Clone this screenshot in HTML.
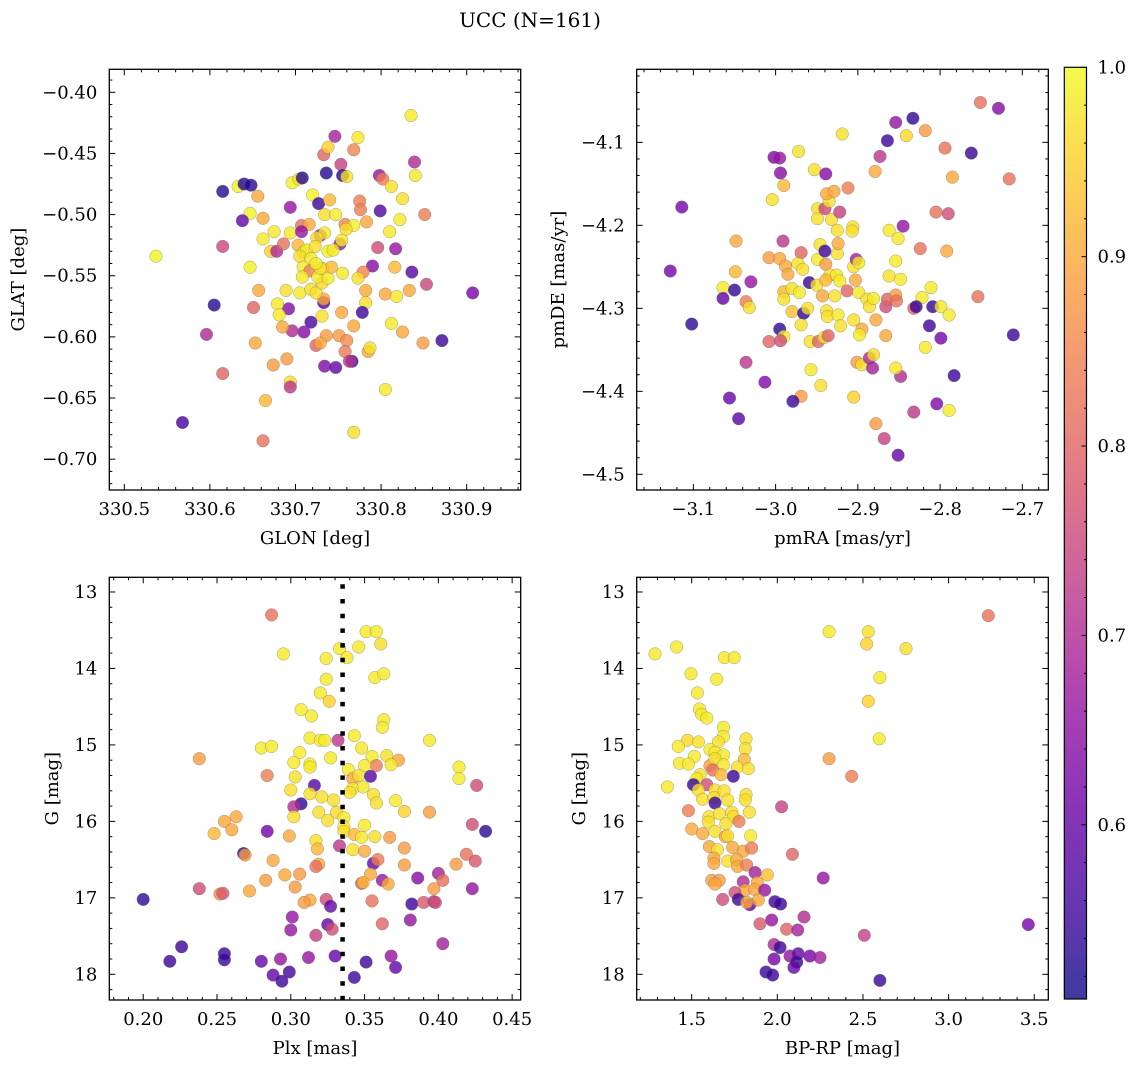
<!DOCTYPE html>
<html><head><meta charset="utf-8"><title>UCC (N=161)</title>
<style>
html,body{margin:0;padding:0;background:#fff;}
svg{display:block;font-family:"DejaVu Serif","Liberation Serif",serif;}
</style></head>
<body>
<svg id="fig" width="1136" height="1067" viewBox="0 0 1136 1067" xmlns="http://www.w3.org/2000/svg">
<rect x="0" y="0" width="1136" height="1067" fill="#fff"/>
<text x="530" y="27" text-anchor="middle" font-size="20">UCC (N=161)</text>
</svg>
<script>
// ---------- DATA ----------
const glon = [330.537,330.568,330.615,330.633,330.640,330.648,330.615,330.647,330.638,330.656,330.662,330.596,330.615,330.647,330.605,330.651,330.653,330.657,330.662,330.665,330.674,330.690,330.694,330.694,330.694,330.696,330.704,330.708,330.720,330.727,330.740,330.736,330.746,330.733,330.738,330.753,330.755,330.760,330.768,330.773,330.734,330.747,330.758,330.768,330.759,330.775,330.776,330.783,330.798,330.802,330.812,330.825,330.799,330.839,330.840,330.835,330.851,330.822,330.810,330.796,330.817,330.790,330.816,330.836,330.853,330.907,330.779,330.773,330.782,330.782,330.805,330.818,330.833,330.778,330.754,330.768,330.812,330.825,330.849,330.871,330.731,330.733,330.733,330.718,330.710,330.696,330.685,330.692,330.679,330.681,330.689,330.705,330.718,330.724,330.731,330.736,330.751,330.760,330.724,330.729,330.758,330.766,330.763,330.785,330.787,330.734,330.747,330.805,330.768,330.662,330.671,330.678,330.675,330.686,330.694,330.707,330.716,330.707,330.703,330.709,330.713,330.705,330.718,330.729,330.734,330.738,330.752,330.754,330.709,330.717,330.708,330.726,330.732,330.738,330.742,330.755,330.725,330.723,330.744,330.729,330.724];
const glat = [-0.534,-0.670,-0.481,-0.477,-0.475,-0.476,-0.526,-0.499,-0.505,-0.485,-0.503,-0.598,-0.630,-0.543,-0.574,-0.576,-0.605,-0.562,-0.685,-0.652,-0.623,-0.618,-0.494,-0.637,-0.641,-0.474,-0.471,-0.470,-0.484,-0.491,-0.488,-0.466,-0.436,-0.451,-0.445,-0.459,-0.468,-0.469,-0.447,-0.437,-0.500,-0.500,-0.508,-0.509,-0.512,-0.489,-0.496,-0.506,-0.468,-0.471,-0.477,-0.487,-0.497,-0.457,-0.468,-0.419,-0.500,-0.504,-0.514,-0.527,-0.528,-0.542,-0.543,-0.547,-0.557,-0.564,-0.547,-0.552,-0.562,-0.572,-0.565,-0.567,-0.562,-0.580,-0.580,-0.591,-0.589,-0.596,-0.605,-0.603,-0.583,-0.572,-0.569,-0.588,-0.596,-0.595,-0.592,-0.577,-0.573,-0.582,-0.562,-0.564,-0.561,-0.564,-0.556,-0.599,-0.599,-0.603,-0.607,-0.605,-0.612,-0.620,-0.620,-0.612,-0.609,-0.624,-0.625,-0.643,-0.678,-0.520,-0.530,-0.530,-0.514,-0.524,-0.515,-0.509,-0.508,-0.514,-0.525,-0.531,-0.529,-0.534,-0.536,-0.517,-0.515,-0.530,-0.524,-0.521,-0.543,-0.546,-0.551,-0.551,-0.544,-0.552,-0.543,-0.548,-0.519,-0.526,-0.529,-0.544,-0.540];
const prob1 = [0.99,0.56,0.53,0.99,0.53,0.53,0.75,0.99,0.6,0.9,0.9,0.7,0.8,0.99,0.53,0.8,0.9,0.9,0.82,0.92,0.88,0.88,0.66,0.97,0.72,0.99,0.97,0.53,0.99,0.55,0.92,0.53,0.68,0.8,0.95,0.74,0.53,0.97,0.85,0.98,0.97,0.98,0.85,0.99,0.97,0.84,0.84,0.9,0.66,0.84,0.97,0.97,0.57,0.7,0.98,0.98,0.84,0.98,0.98,0.76,0.66,0.64,0.92,0.58,0.75,0.62,0.85,0.97,0.9,0.97,0.9,0.98,0.9,0.55,0.9,0.9,0.98,0.9,0.88,0.55,0.97,0.58,0.9,0.56,0.64,0.7,0.9,0.64,0.98,0.98,0.97,0.98,0.97,0.97,0.96,0.88,0.88,0.86,0.8,0.9,0.84,0.55,0.72,0.9,0.97,0.63,0.6,0.98,0.97,0.98,0.95,0.7,0.98,0.82,0.98,0.82,0.9,0.66,0.92,0.97,0.98,0.97,0.98,0.66,0.98,0.99,0.66,0.98,0.98,0.84,0.98,0.98,0.98,0.98,0.92,0.98,0.97,0.97,0.98,0.97,0.98];

const pmra = [-3.114,-3.128,-3.102,-3.064,-3.064,-3.050,-3.048,-3.049,-3.036,-3.032,-3.030,-3.036,-3.056,-3.045,-3.013,-3.002,-2.995,-2.994,-3.004,-2.990,-2.972,-2.953,-2.939,-2.991,-3.008,-2.995,-2.969,-2.988,-2.985,-2.973,-2.967,-2.990,-2.980,-2.971,-2.990,-2.980,-2.966,-2.961,-2.969,-2.995,-2.990,-3.008,-2.994,-2.959,-2.950,-2.943,-2.949,-2.946,-2.940,-2.939,-2.925,-2.924,-2.934,-2.926,-2.922,-2.939,-2.928,-2.938,-2.937,-2.924,-2.921,-2.913,-2.899,-2.903,-2.905,-2.902,-2.899,-2.905,-2.895,-2.898,-2.878,-2.889,-2.886,-2.881,-2.866,-2.864,-2.854,-2.853,-2.866,-2.862,-2.848,-2.854,-2.862,-2.851,-2.845,-2.824,-2.792,-2.822,-2.811,-2.832,-2.829,-2.809,-2.799,-2.789,-2.813,-2.799,-2.818,-2.754,-2.711,-2.783,-2.804,-2.789,-2.832,-2.848,-2.854,-2.878,-2.868,-2.851,-2.905,-2.945,-2.957,-2.969,-2.979,-2.958,-2.948,-2.941,-2.936,-2.901,-2.895,-2.886,-2.881,-2.882,-2.949,-2.940,-2.949,-2.932,-2.925,-2.922,-2.935,-2.938,-2.929,-2.912,-2.906,-2.907,-2.919,-2.879,-2.873,-2.864,-2.854,-2.841,-2.833,-2.818,-2.794,-2.785,-2.762,-2.751,-2.729,-2.716,-2.805,-2.790];
const pmde = [-4.178,-4.255,-4.319,-4.275,-4.288,-4.278,-4.219,-4.256,-4.292,-4.299,-4.268,-4.365,-4.408,-4.433,-4.389,-4.118,-4.119,-4.137,-4.169,-4.152,-4.111,-4.133,-4.138,-4.219,-4.239,-4.240,-4.233,-4.249,-4.259,-4.246,-4.253,-4.280,-4.276,-4.281,-4.289,-4.304,-4.306,-4.300,-4.320,-4.325,-4.334,-4.340,-4.339,-4.269,-4.272,-4.285,-4.241,-4.223,-4.231,-4.247,-4.234,-4.222,-4.260,-4.260,-4.267,-4.266,-4.285,-4.303,-4.310,-4.308,-4.321,-4.279,-4.281,-4.266,-4.250,-4.241,-4.245,-4.314,-4.325,-4.332,-4.314,-4.289,-4.298,-4.288,-4.298,-4.289,-4.284,-4.291,-4.333,-4.261,-4.265,-4.243,-4.206,-4.216,-4.201,-4.228,-4.231,-4.287,-4.275,-4.300,-4.298,-4.298,-4.298,-4.308,-4.321,-4.336,-4.347,-4.286,-4.332,-4.381,-4.415,-4.423,-4.425,-4.382,-4.372,-4.439,-4.457,-4.477,-4.407,-4.393,-4.374,-4.406,-4.412,-4.340,-4.340,-4.335,-4.333,-4.365,-4.368,-4.360,-4.356,-4.372,-4.180,-4.180,-4.192,-4.193,-4.206,-4.184,-4.171,-4.162,-4.159,-4.155,-4.202,-4.207,-4.090,-4.135,-4.117,-4.098,-4.076,-4.092,-4.071,-4.086,-4.107,-4.142,-4.113,-4.052,-4.059,-4.144,-4.184,-4.186];
const prob2 = [0.62,0.62,0.54,0.98,0.6,0.54,0.9,0.92,0.84,0.97,0.66,0.72,0.6,0.58,0.63,0.63,0.66,0.64,0.97,0.92,0.97,0.97,0.64,0.72,0.88,0.9,0.8,0.9,0.9,0.97,0.97,0.92,0.97,0.98,0.97,0.93,0.54,0.97,0.97,0.54,0.98,0.8,0.76,0.55,0.97,0.9,0.98,0.97,0.55,0.88,0.97,0.9,0.97,0.98,0.98,0.92,0.97,0.97,0.97,0.98,0.97,0.8,0.98,0.9,0.97,0.68,0.98,0.97,0.9,0.98,0.9,0.97,0.97,0.98,0.76,0.8,0.88,0.82,0.9,0.97,0.98,0.98,0.98,0.98,0.66,0.82,0.9,0.98,0.98,0.8,0.55,0.54,0.98,0.98,0.55,0.62,0.98,0.82,0.55,0.55,0.63,0.98,0.72,0.7,0.98,0.88,0.74,0.6,0.95,0.97,0.98,0.88,0.55,0.97,0.8,0.97,0.8,0.88,0.97,0.7,0.97,0.68,0.97,0.75,0.97,0.97,0.97,0.74,0.97,0.9,0.9,0.84,0.97,0.97,0.97,0.9,0.72,0.55,0.66,0.96,0.54,0.88,0.82,0.9,0.55,0.82,0.64,0.82,0.82,0.76];

const plx = [0.287,0.295,0.333,0.338,0.324,0.346,0.351,0.358,0.361,0.324,0.357,0.363,0.320,0.326,0.307,0.314,0.363,0.362,0.343,0.313,0.320,0.323,0.332,0.394,0.280,0.287,0.348,0.306,0.238,0.355,0.365,0.373,0.368,0.302,0.313,0.313,0.327,0.358,0.414,0.414,0.339,0.350,0.284,0.303,0.342,0.346,0.354,0.426,0.316,0.300,0.342,0.349,0.313,0.321,0.329,0.340,0.356,0.358,0.307,0.302,0.371,0.319,0.331,0.377,0.394,0.302,0.325,0.336,0.263,0.255,0.423,0.432,0.336,0.350,0.248,0.260,0.284,0.299,0.336,0.343,0.348,0.357,0.367,0.317,0.318,0.333,0.342,0.350,0.377,0.268,0.269,0.419,0.425,0.288,0.356,0.359,0.377,0.412,0.319,0.317,0.296,0.306,0.354,0.386,0.400,0.403,0.283,0.362,0.348,0.349,0.366,0.238,0.303,0.397,0.423,0.252,0.254,0.272,0.200,0.313,0.309,0.324,0.327,0.355,0.382,0.390,0.397,0.398,0.301,0.381,0.300,0.325,0.328,0.362,0.317,0.403,0.226,0.218,0.255,0.255,0.280,0.293,0.312,0.330,0.351,0.368,0.371,0.288,0.294,0.299,0.343];
const gmag3 = [13.30,13.81,13.74,13.86,13.87,13.72,13.52,13.52,13.68,14.14,14.12,14.07,14.32,14.43,14.54,14.62,14.67,14.77,14.88,14.91,14.94,14.94,14.94,14.94,15.04,15.02,15.04,15.10,15.18,15.15,15.14,15.20,15.26,15.23,15.25,15.29,15.17,15.27,15.29,15.44,15.32,15.27,15.40,15.42,15.44,15.40,15.41,15.53,15.53,15.59,15.57,15.55,15.64,15.68,15.72,15.62,15.65,15.76,15.77,15.81,15.73,15.88,15.88,15.87,15.88,15.94,15.99,15.95,15.94,16.00,16.04,16.13,16.07,16.05,16.16,16.11,16.13,16.19,16.13,16.17,16.21,16.20,16.21,16.25,16.36,16.32,16.37,16.39,16.35,16.42,16.44,16.43,16.52,16.51,16.55,16.50,16.57,16.56,16.56,16.59,16.70,16.69,16.69,16.74,16.68,16.77,16.77,16.77,16.81,16.80,16.82,16.88,16.86,16.88,16.88,16.95,16.94,16.91,17.02,17.03,17.06,17.02,17.11,17.04,17.08,17.06,17.05,17.06,17.25,17.29,17.42,17.35,17.41,17.34,17.49,17.60,17.64,17.83,17.73,17.81,17.83,17.80,17.78,17.76,17.84,17.76,17.91,18.01,18.09,17.97,18.04];
const prob3 = [0.82,0.98,0.98,0.98,0.98,0.98,0.98,0.98,0.97,0.98,0.98,0.98,0.98,0.95,0.98,0.98,0.98,0.98,0.98,0.98,0.98,0.98,0.72,0.98,0.98,0.98,0.98,0.98,0.88,0.98,0.97,0.9,0.98,0.98,0.98,0.98,0.98,0.84,0.98,0.98,0.98,0.98,0.84,0.97,0.9,0.97,0.58,0.76,0.58,0.97,0.98,0.98,0.97,0.97,0.97,0.97,0.97,0.97,0.54,0.7,0.98,0.97,0.96,0.95,0.88,0.97,0.97,0.98,0.9,0.9,0.76,0.54,0.98,0.98,0.92,0.9,0.62,0.9,0.97,0.92,0.98,0.97,0.88,0.97,0.92,0.72,0.97,0.9,0.88,0.54,0.88,0.82,0.78,0.9,0.6,0.84,0.88,0.88,0.9,0.82,0.9,0.88,0.9,0.64,0.68,0.82,0.88,0.66,0.78,0.92,0.9,0.76,0.88,0.88,0.66,0.86,0.78,0.9,0.54,0.9,0.88,0.76,0.6,0.82,0.55,0.78,0.72,0.76,0.66,0.66,0.66,0.6,0.76,0.8,0.74,0.68,0.55,0.55,0.55,0.55,0.6,0.66,0.66,0.6,0.55,0.66,0.6,0.6,0.55,0.56,0.55];

const bprp = [1.286,1.412,1.691,1.749,2.302,2.531,2.521,2.751,3.232,1.496,1.646,2.599,1.533,2.531,1.545,1.558,1.588,1.685,1.685,1.475,1.539,1.817,1.656,1.422,1.607,1.813,2.595,1.636,1.685,1.516,2.302,1.428,1.480,1.607,1.636,1.685,1.807,1.767,1.831,1.623,1.743,2.434,1.549,1.529,1.671,1.510,1.588,1.358,1.539,1.636,1.689,1.817,1.564,1.630,1.710,1.813,1.636,2.025,1.481,1.734,1.837,1.601,1.662,1.743,1.776,1.597,1.700,1.500,1.564,1.636,1.696,1.710,1.844,1.603,1.650,1.739,1.801,1.850,2.088,1.630,1.710,1.763,1.768,1.821,1.630,1.870,1.942,2.268,1.617,1.661,1.636,1.801,1.883,1.811,1.868,1.926,1.753,1.772,1.840,1.821,1.889,1.681,1.986,2.019,1.967,1.899,2.156,2.054,2.119,2.508,3.465,1.981,2.016,2.074,2.122,2.190,2.249,1.981,2.113,2.097,1.934,1.973,2.599];
const gmag4 = [13.81,13.72,13.86,13.86,13.52,13.52,13.68,13.74,13.31,14.07,14.14,14.12,14.32,14.43,14.53,14.60,14.65,14.77,14.89,14.94,14.96,14.92,14.96,15.02,15.06,15.05,14.92,15.10,15.13,15.15,15.18,15.24,15.25,15.27,15.18,15.26,15.19,15.29,15.31,15.33,15.41,15.41,15.39,15.44,15.39,15.52,15.52,15.55,15.59,15.59,15.60,15.65,15.71,15.69,15.72,15.72,15.76,15.81,15.86,15.88,15.88,15.94,15.90,15.94,16.00,16.01,16.03,16.10,16.16,16.13,16.20,16.19,16.19,16.33,16.37,16.34,16.39,16.35,16.43,16.48,16.52,16.50,16.59,16.57,16.55,16.67,16.70,16.74,16.77,16.77,16.82,16.79,16.80,16.90,16.89,16.90,16.93,17.02,17.09,17.06,17.03,17.02,17.05,17.08,17.29,17.34,17.25,17.41,17.42,17.49,17.35,17.61,17.65,17.76,17.73,17.76,17.78,17.80,17.84,17.91,17.97,18.01,18.08];
const prob4 = [0.98,0.98,0.98,0.98,0.98,0.97,0.95,0.97,0.82,0.98,0.98,0.98,0.98,0.95,0.98,0.98,0.98,0.98,0.98,0.96,0.97,0.97,0.97,0.98,0.98,0.97,0.98,0.98,0.98,0.98,0.88,0.98,0.98,0.88,0.97,0.98,0.92,0.97,0.97,0.82,0.55,0.84,0.97,0.98,0.92,0.55,0.76,0.98,0.97,0.97,0.97,0.97,0.97,0.97,0.97,0.97,0.55,0.74,0.84,0.97,0.97,0.97,0.97,0.97,0.84,0.97,0.97,0.9,0.9,0.97,0.9,0.97,0.98,0.9,0.97,0.9,0.9,0.84,0.8,0.9,0.97,0.9,0.9,0.84,0.9,0.68,0.93,0.66,0.88,0.88,0.9,0.7,0.9,0.9,0.9,0.66,0.76,0.55,0.6,0.9,0.9,0.76,0.55,0.55,0.66,0.78,0.7,0.8,0.68,0.74,0.62,0.7,0.55,0.66,0.6,0.62,0.68,0.62,0.55,0.6,0.55,0.55,0.55];

const cbTicks = [0.6,0.7,0.8,0.9,1.0];
const VMIN = 0.508, VMAX = 1.0;

// ---------- RENDERING ----------
const NS = "http://www.w3.org/2000/svg";
const svg = document.getElementById('fig');
function mk(tag, attrs, parent){
  const e = document.createElementNS(NS, tag);
  for (const k in attrs) e.setAttribute(k, attrs[k]);
  (parent||svg).appendChild(e);
  return e;
}
const plasmaStops = ["#0d0887","#46039f","#7201a8","#9c179e","#bd3786","#d8576b","#ed7953","#fb9f3a","#fdca26","#f0f921"];
function hex2rgb(h){return [parseInt(h.substr(1,2),16),parseInt(h.substr(3,2),16),parseInt(h.substr(5,2),16)];}
function plasma(t){
  t=Math.max(0,Math.min(1,t));
  const n=plasmaStops.length-1, f=t*n, i=Math.min(n-1,Math.floor(f)), r=f-i;
  const a=hex2rgb(plasmaStops[i]), b=hex2rgb(plasmaStops[i+1]);
  return "rgb("+a.map((v,k)=>Math.round(v+(b[k]-v)*r)).join(",")+")";
}
function fmt(v,d){ const s=v.toFixed(d); return s.replace("-","\u2212"); }

function panel(cfg){
  const g = mk('g',{});
  
  
  const {L,R,T,B} = cfg;
  const sx = v => L + (v-cfg.x0)/(cfg.x1-cfg.x0)*(R-L);
  const sy = v => cfg.yinv ? T + (v-cfg.y0)/(cfg.y1-cfg.y0)*(B-T) : B - (v-cfg.y0)/(cfg.y1-cfg.y0)*(B-T);
  const clip = mk('clipPath',{id:'clip-'+cfg.name}, g);
  mk('rect',{x:L,y:T,width:R-L,height:B-T},clip);
  const pts = mk('g',{'clip-path':'url(#clip-'+cfg.name+')'}, g);
  
  
  for (let i=0;i<cfg.xs.length;i++){
    const c = mk('circle',{cx:sx(cfg.xs[i]).toFixed(1),cy:sy(cfg.ys[i]).toFixed(1),r:6.3,
      fill:plasma((cfg.cs[i]-VMIN)/(VMAX-VMIN)),'fill-opacity':0.8,stroke:'#666','stroke-width':0.5,'stroke-opacity':0.6}, pts);
    
    
  }
  if (cfg.vline!==undefined){
    const vl = mk('line',{x1:sx(cfg.vline),x2:sx(cfg.vline),y1:T+7,y2:B,stroke:'#000','stroke-width':4.5,'stroke-dasharray':'4.5 10.2'}, g);
    
    
  }
  // frame
  const fr = mk('rect',{x:L,y:T,width:R-L,height:B-T,fill:'none',stroke:'#000','stroke-width':1.3}, g);
  
  
  // ticks
  const tk = mk('g',{stroke:'#000','stroke-width':1}, g);
  const eps=1e-9;
  const lo=Math.min(cfg.x0,cfg.x1), hi=Math.max(cfg.x0,cfg.x1);
  for (let v=Math.ceil(lo/cfg.xmin-eps)*cfg.xmin; v<=hi+eps; v+=cfg.xmin){
    const x=sx(v); const major = Math.abs(v/cfg.xmaj-Math.round(v/cfg.xmaj))<1e-6; const len=major?6:3;
    mk('line',{x1:x,x2:x,y1:B,y2:B-len},tk); mk('line',{x1:x,x2:x,y1:T,y2:T+len},tk);
  }
  const ylo=Math.min(cfg.y0,cfg.y1), yhi=Math.max(cfg.y0,cfg.y1);
  for (let v=Math.ceil(ylo/cfg.ymin-eps)*cfg.ymin; v<=yhi+eps; v+=cfg.ymin){
    const y=sy(v); const major = Math.abs(v/cfg.ymaj-Math.round(v/cfg.ymaj))<1e-6; const len=major?6:3;
    mk('line',{x1:L,x2:L+len,y1:y,y2:y},tk); mk('line',{x1:R,x2:R-len,y1:y,y2:y},tk);
  }
  for (const v of cfg.xticks){
    const t = mk('text',{x:sx(v),y:B+25,'text-anchor':'middle','font-size':18}, g);
    t.textContent = fmt(v,cfg.xdec);
    
    
  }
  for (const v of cfg.yticks){
    const t = mk('text',{x:L-12,y:sy(v)+6,'text-anchor':'end','font-size':18}, g);
    t.textContent = fmt(v,cfg.ydec);
    
    
  }
  const xl = mk('text',{x:(L+R)/2,y:B+54,'text-anchor':'middle','font-size':18}, g);
  xl.textContent = cfg.xlabel;
  
  
  const yl = mk('text',{x:0,y:0,'text-anchor':'middle','font-size':18,transform:'translate('+cfg.ylx+','+((T+B)/2)+') rotate(-90)'}, g);
  yl.textContent = cfg.ylabel;
  
  
}

panel({name:'glon-glat-panel',L:109.3,R:520.7,T:69.3,B:490,x0:330.4825,x1:330.9631,y0:-0.7252,y1:-0.3812,
  xs:glon,ys:glat,cs:prob1,xmaj:0.1,xmin:0.02,ymaj:0.05,ymin:0.01,
  xticks:[330.5,330.6,330.7,330.8,330.9],yticks:[-0.40,-0.45,-0.50,-0.55,-0.60,-0.65,-0.70],xdec:1,ydec:2,
  xlabel:'GLON [deg]',ylabel:'GLAT [deg]',ylx:24});
panel({name:'pm-panel',L:636.7,R:1048.3,T:69.3,B:490,x0:-3.1689,x1:-2.6684,y0:-4.5189,y1:-4.0120,
  xs:pmra,ys:pmde,cs:prob2,xmaj:0.1,xmin:0.02,ymaj:0.1,ymin:0.02,
  xticks:[-3.1,-3.0,-2.9,-2.8,-2.7],yticks:[-4.1,-4.2,-4.3,-4.4,-4.5],xdec:1,ydec:1,
  xlabel:'pmRA [mas/yr]',ylabel:'pmDE [mas/yr]',ylx:564});
panel({name:'plx-g-panel',L:109.3,R:520.7,T:577.3,B:1000,x0:0.1770,x1:0.4558,y0:12.808,y1:18.336,yinv:true,
  xs:plx,ys:gmag3,cs:prob3,xmaj:0.05,xmin:0.01,ymaj:1,ymin:0.2,
  xticks:[0.20,0.25,0.30,0.35,0.40,0.45],yticks:[13,14,15,16,17,18],xdec:2,ydec:0,
  xlabel:'Plx [mas]',ylabel:'G [mag]',ylx:58,vline:0.3351});
panel({name:'cmd-panel',L:636.7,R:1048.3,T:577.3,B:1000,x0:1.179,x1:3.582,y0:12.808,y1:18.336,yinv:true,
  xs:bprp,ys:gmag4,cs:prob4,xmaj:0.5,xmin:0.1,ymaj:1,ymin:0.2,
  xticks:[1.5,2.0,2.5,3.0,3.5],yticks:[13,14,15,16,17,18],xdec:1,ydec:0,
  xlabel:'BP-RP [mag]',ylabel:'G [mag]',ylx:585});

// colorbar
(function(){
  const L=1064.3,R=1086.5,T=67.3,B=999;
  const g = mk('g',{});
  
  
  const defs = mk('defs',{}, g);
  const lg = mk('linearGradient',{id:'cbgrad',x1:0,y1:1,x2:0,y2:0}, defs);
  for (let i=0;i<=20;i++){ mk('stop',{offset:(i/20),'stop-color':plasma(i/20),'stop-opacity':0.8}, lg); }
  mk('rect',{x:L,y:T,width:R-L,height:B-T,fill:'url(#cbgrad)'}, g);
  mk('rect',{x:L,y:T,width:R-L,height:B-T,fill:'none',stroke:'#000','stroke-width':1.2}, g);
  const sy = v => B - (v-VMIN)/(VMAX-VMIN)*(B-T);
  for (let v=0.52; v<=1.0001; v+=0.02){
    const y=sy(v); const major = Math.abs(v*10-Math.round(v*10))<1e-6;
    mk('line',{x1:R,x2:R-(major?5:2.5),y1:y,y2:y,stroke:'#000','stroke-width':1}, g);
  }
  for (const v of cbTicks){
    const t = mk('text',{x:R+11,y:sy(v)+6,'font-size':18}, g);
    t.textContent = v.toFixed(1);
    
    
  }
})();
</script>
</body></html>
